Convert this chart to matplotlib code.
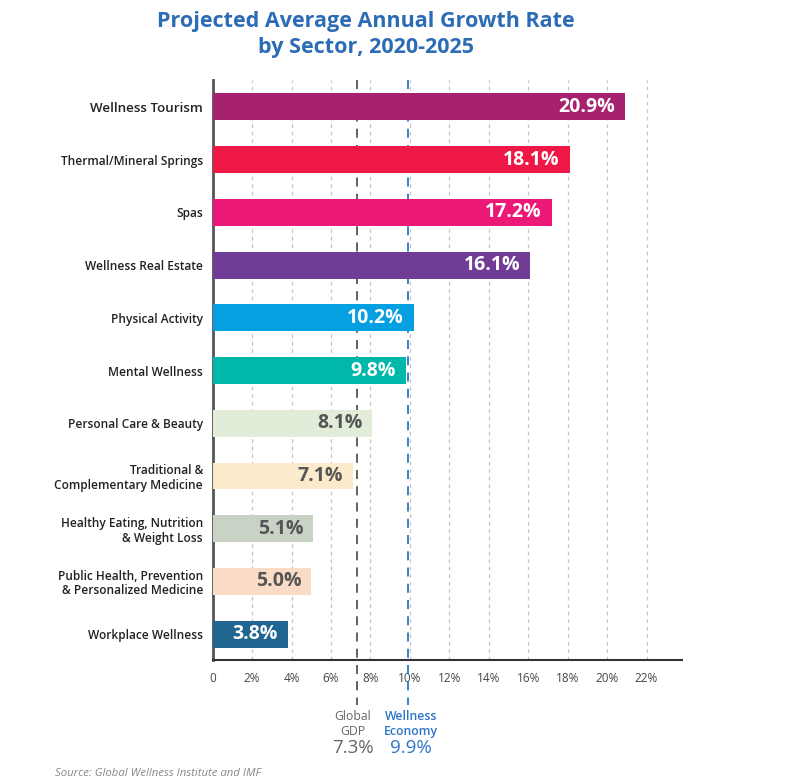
import matplotlib
matplotlib.use("Agg")
import matplotlib.pyplot as plt
import matplotlib.transforms as mtransforms

categories = ["Wellness Tourism", "Thermal/Mineral Springs", "Spas", "Wellness Real Estate",
              "Physical Activity", "Mental Wellness", "Personal Care & Beauty",
              "Traditional &\nComplementary Medicine", "Healthy Eating, Nutrition\n& Weight Loss",
              "Public Health, Prevention\n& Personalized Medicine", "Workplace Wellness"]
values = [20.9, 18.1, 17.2, 16.1, 10.2, 9.8, 8.1, 7.1, 5.1, 5.0, 3.8]
colors = ["#A7226E", "#EE1846", "#EC1877", "#703C96", "#04A0E1", "#00B8A9", "#E1EDD9",
          "#FBEACB", "#C8D3C6", "#FADBC6", "#206590"]
label_colors = ["white"] * 6 + ["#555555"] * 4 + ["white"]
xticks = [0, 2, 4, 6, 8, 10, 12, 14, 16, 18, 20, 22]
xticklabels = ["0", "2%", "4%", "6%", "8%", "10%", "12%", "14%", "16%", "18%", "20%", "22%"]
gdp_value = 7.3
wellness_value = 9.9

FONT = ["Open Sans", "DejaVu Sans"]
plt.rcParams["font.family"] = FONT

fig = plt.figure(figsize=(7.92, 7.82), dpi=100)
ax = fig.add_axes([212.7 / 792, 1 - 660 / 782, (682 - 212.7) / 792, 580 / 782])

ypos = list(range(len(categories)))
ax.barh(ypos, values, height=0.51, color=colors, zorder=3)
ax.set_xlim(0, 23.8)
ax.set_ylim(10.49, -0.51)

# grid
for x in xticks[1:]:
    ax.axvline(x, color="#C4C4C4", lw=0.9, ls=(0, (3, 3)), zorder=1)

trans = mtransforms.blended_transform_factory(ax.transData, ax.transAxes)
ax.plot([gdp_value, gdp_value], [1, -0.078], transform=trans, color="#555555", lw=1.3,
        ls=(0, (5, 4)), clip_on=False, zorder=2)
ax.plot([wellness_value, wellness_value], [1, -0.078], transform=trans, color="#2E75C6", lw=1.3,
        ls=(0, (5, 4)), clip_on=False, zorder=2)

for y, v, lc in zip(ypos, values, label_colors):
    ax.text(v - 0.5, y, f"{v:.1f}%", ha="right", va="center", color=lc,
            fontsize=14, fontweight="bold", zorder=4)

ax.set_yticks(ypos)
ax.set_yticklabels(categories, fontsize=8.6, fontweight="semibold", color="#222222",
                   linespacing=1.15)
ax.get_yticklabels()[0].set_fontsize(9.6)
ax.set_xticks(xticks)
ax.set_xticklabels(xticklabels, fontsize=8.5, color="#444444")
ax.tick_params(axis="both", length=0)
ax.tick_params(axis="x", pad=9)
ax.tick_params(axis="y", pad=7)

for s in ["top", "right"]:
    ax.spines[s].set_visible(False)
ax.spines["left"].set_color("#555555")
ax.spines["left"].set_linewidth(2)
ax.spines["bottom"].set_color("#333333")
ax.spines["bottom"].set_linewidth(1.5)

# annotations below axis
def fy(py):
    return 1 - py / 782

def fx(px):
    return px / 792

fig.text(fx(353), fy(724), "Global\nGDP", ha="center", va="center", fontsize=8.8,
         color="#666666", linespacing=1.2)
fig.text(fx(353), fy(748), f"{gdp_value}%", ha="center", va="center", fontsize=13.5,
         color="#666666")
fig.text(fx(411), fy(724), "Wellness\nEconomy", ha="center", va="center", fontsize=8.8,
         color="#2E75C6", fontweight="semibold", linespacing=1.2)
fig.text(fx(411), fy(748), f"{wellness_value}%", ha="center", va="center", fontsize=13.5,
         color="#2E75C6")

fig.text(fx(366), fy(22), "Projected Average Annual Growth Rate", ha="center", va="center",
         fontsize=15.5, fontweight="bold", color="#2B6CB5")
fig.text(fx(366), fy(48), "by Sector, 2020-2025", ha="center", va="center",
         fontsize=15.5, fontweight="bold", color="#2B6CB5")

fig.text(fx(55), fy(773), "Source: Global Wellness Institute and IMF", ha="left", va="center",
         fontsize=8.2, style="italic", color="#888888")

fig.savefig("out.png", dpi=100)
